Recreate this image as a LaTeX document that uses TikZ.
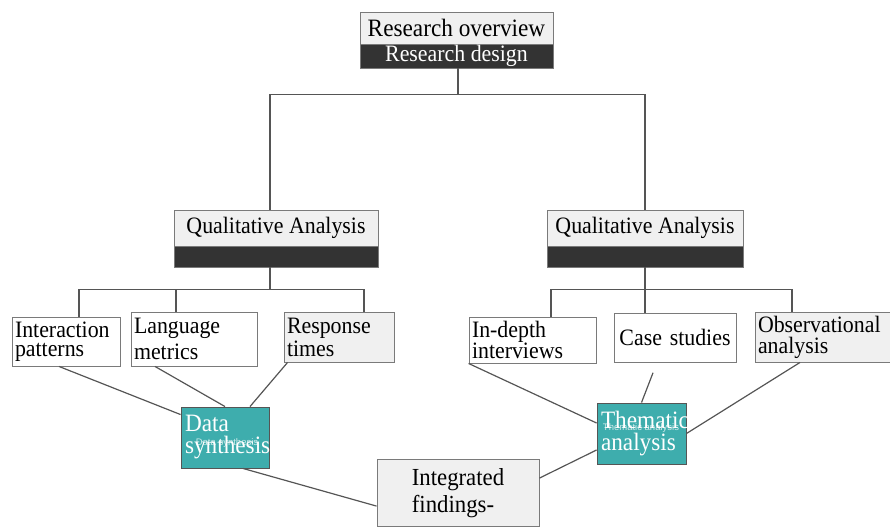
\documentclass[tikz,border=0pt]{standalone}
\usepackage{fontspec}
\setmainfont[FakeStretch=0.93]{Liberation Serif}
\newfontfamily\tinysans{Liberation Sans}
\usepackage{tikz}
\usetikzlibrary{positioning}

\definecolor{boxgray}{HTML}{F0F0F0}
\definecolor{bardark}{HTML}{333333}
\definecolor{synthteal}{HTML}{3EADAD}
\definecolor{linegray}{HTML}{555555}
\definecolor{edgegray}{HTML}{7A7A7A}

\begin{document}
\begin{tikzpicture}[x=1pt, y=-1pt,
    cell/.style={rectangle, draw=edgegray, line width=0.9pt, inner sep=3pt, align=left,
        font=\fontsize{23.5}{21}\selectfont},
    headcell/.style={cell, fill=boxgray, align=center},
    darkbar/.style={rectangle, draw=edgegray, line width=0.9pt, fill=bardark, inner sep=0pt,
        text=white, font=\fontsize{23.5}{21}\selectfont},
    tealcell/.style={cell, fill=synthteal, text=white, draw=linegray, inner xsep=4pt,
        font=\fontsize{25}{22}\selectfont},
    ghost/.style={text=white, opacity=0.75, font=\tinysans\fontsize{9.5}{9.5}\selectfont, inner sep=0pt},
    link/.style={draw=linegray, line width=1.2pt}]

            \useasboundingbox (0,0) rectangle (890,527);
            \clip (0,0) rectangle (890,527);

            % Nodes
            \node[headcell, minimum width=193pt, minimum height=32pt, font=\fontsize{25}{21}\selectfont] (ov) at (456.5, 28) {Research overview};
            \node[darkbar, minimum width=193pt, minimum height=24pt] (rd) at (456.5, 56) {Research design};

            \node[headcell, minimum width=204pt, minimum height=36pt] (qa1) at (276, 228) {Qualitative Analysis};
            \node[darkbar, minimum width=204pt, minimum height=21pt] (bar1) at (276, 256.5) {};
            \node[headcell, minimum width=196pt, minimum height=36pt] (qa2) at (645, 228) {Qualitative Analysis};
            \node[darkbar, minimum width=196pt, minimum height=21pt] (bar2) at (645, 256.5) {};

            \node[cell, fill=white, text width=102pt, minimum height=49pt, font=\fontsize{23.5}{19}\selectfont] (ip) at (66, 341.5) {Interaction\\patterns};
            \node[cell, fill=white, text width=120pt, minimum height=54pt, font=\fontsize{23.5}{26}\selectfont] (lm) at (194, 339) {Language\\metrics};
            \node[cell, fill=boxgray, text width=104pt, minimum height=50pt, font=\fontsize{23.5}{23}\selectfont] (rt) at (339, 337) {Response\\times};

            \node[cell, fill=white, text width=121pt, minimum height=46pt] (idi) at (532.5, 340) {In-depth\\interviews};
            \node[cell, fill=white, align=center, text width=116pt, minimum height=49pt] (cs) at (675, 337.5) {Case studies};
            \node[cell, fill=boxgray, text width=129pt, minimum height=50pt] (oa) at (822.5, 337) {Observational\\analysis};

            \node[tealcell, text width=80pt, minimum height=61pt] (ds) at (225, 437.5) {Data\\synthesis};
            \node[ghost] (dslab) at (227, 443) {Data synthesis};
            \node[tealcell, text width=81pt, minimum height=61pt] (ta) at (641.5, 433.5) {Thematic\\analysis};
            \node[ghost] (talab) at (641, 428) {Thematic analysis};

            \node[cell, fill=boxgray, anchor=north, minimum width=162pt, inner ysep=9pt,
                font=\fontsize{24.5}{27}\selectfont] (inf) at (458, 459) {Integrated\\findings-};

            % Tree lines
            \draw[link] ([xshift=1.5pt]rd.south) -- ++(0,27);
            \draw[link] ([xshift=-6pt]qa1.north) -- ++(0,-115) -| (qa2.north);

            \draw[link] ([xshift=-6pt]bar1.south) -- ++(0,23);
            \draw[link] ([xshift=13pt]ip.north) -- ++(0,-27) -| ([xshift=25pt]rt.north);
            \draw[link] ([xshift=-18pt]lm.north) -- ++(0,-22);

            \draw[link] (bar2.south) -- ++(0,23);
            \draw[link] ([xshift=18.5pt]idi.north) -- ++(0,-27) -| ([xshift=-30.5pt]oa.north);
            \draw[link] ([xshift=-30pt]cs.north) -- ++(0,-23);

            % Links to the synthesis boxes
            \draw[link] ([xshift=-7pt]ip.south) -- ([yshift=-8pt]ds.north west);
            \draw[link] ([xshift=-39pt]lm.south) -- (ds.north);
            \draw[link] ([xshift=4pt]rt.south west) -- ([xshift=25pt]ds.north);
            \draw[link] ([xshift=18pt]ds.south) -- ([yshift=-13pt]inf.west);

            \draw[link] (idi.south west) -- ([yshift=10.5pt]ta.west);
            \draw[link, shorten <=11pt] ([xshift=-18pt]cs.south) -- (ta.north);
            \draw[link] ([xshift=-22.5pt]oa.south) -- (ta.east);
            \draw[link] ([yshift=15pt]inf.east) -- ([yshift=-16.5pt]ta.west);
            \end{tikzpicture}
\end{document}
